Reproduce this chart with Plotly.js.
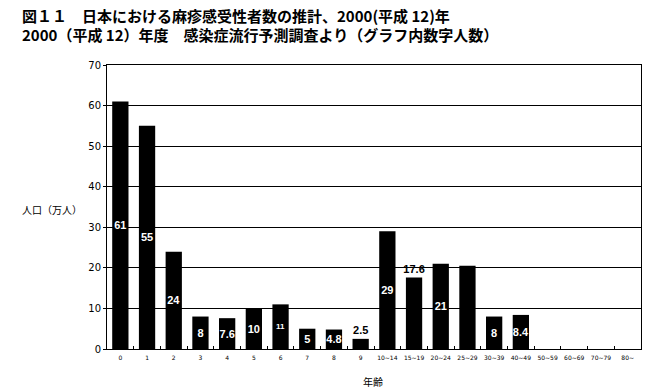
<!DOCTYPE html>
<html><head><meta charset="utf-8">
<script src="https://cdn.plot.ly/plotly-3.0.1.min.js"></script>
<style>body{margin:0;background:#fff}#c{width:653px;height:391px}</style>
</head><body><div id="c"></div>
<script>
var categories = ["0","1","2","3","4","5","6","7","8","9","10~14","15~19","20~24","25~29","30~39","40~49","50~59","60~69","70~79","80~"];
var values = [61,55,24,8,7.6,10,11,5,4.8,2.5,29,17.6,21,20.5,8,8.4,0,0,0,0];
var labels = ["61","55","24","8","7.6","10","11","5","4.8","2.5","29","17.6","21","","8","8.4","","","",""];
var outsideLabels = ["2.5","17.6"];
var smallLabels = ["11"];

var pos = labels.map(function(l){return outsideLabels.indexOf(l)>=0?'outside':'inside';});
var col = labels.map(function(l){return outsideLabels.indexOf(l)>=0?'#000':'#fff';});
var sz = labels.map(function(l){return smallLabels.indexOf(l)>=0?8:11;});

var trace = {
  type:'bar', x:categories, y:values, text:labels,
  textposition:pos, insidetextanchor:'middle', constraintext:'none', textangle:0,
  textfont:{family:'Liberation Sans, Arial', color:col, size:sz, weight:'bold'},
  marker:{color:'#000'}, hoverinfo:'none', cliponaxis:false
};
var layout = {
  width:653, height:391, margin:{l:107,r:12,t:65,b:42},
  paper_bgcolor:'#fff', plot_bgcolor:'#fff', showlegend:false, bargap:0.39,
  font:{family:'Liberation Sans, Arial', color:'#000'},
  xaxis:{type:'category', showline:true, linecolor:'#000', linewidth:1, mirror:true,
    ticks:'inside', tickson:'boundaries', ticklen:3, tickcolor:'#000', showgrid:false,
    tickangle:0, tickfont:{size:6, family:'DejaVu Sans', color:'#000'}, ticklabelstandoff:3},
  yaxis:{range:[0,70], dtick:10, showline:true, linecolor:'#000', linewidth:1, mirror:true,
    ticks:'outside', ticklen:3, tickcolor:'#000', showgrid:true, gridcolor:'#000', gridwidth:1,
    zeroline:false, tickfont:{size:10, family:'DejaVu Sans', color:'#000'}},
  annotations:[
    {text:'図１１　日本における麻疹感受性者数の推計、2000(平成 12)年', xref:'paper', yref:'paper',
     x:-87/534, y:1+50/284, xanchor:'left', yanchor:'middle', showarrow:false,
     font:{family:'Noto Sans CJK JP', size:15, weight:'bold', color:'#000'}},
    {text:'2000（平成 12）年度　感染症流行予測調査より（グラフ内数字人数）', xref:'paper', yref:'paper',
     x:-87/534, y:1+30/284, xanchor:'left', yanchor:'middle', showarrow:false,
     font:{family:'Noto Sans CJK JP', size:15, weight:'bold', color:'#000'}},
    {text:'人口（万人）', xref:'paper', yref:'paper', x:-87/534, y:(349-209)/284,
     xanchor:'left', yanchor:'middle', showarrow:false,
     font:{family:'Noto Sans CJK JP', size:10, color:'#000'}},
    {text:'年齢', xref:'paper', yref:'paper', x:(373-107)/534, y:-(381-349)/284,
     xanchor:'center', yanchor:'middle', showarrow:false,
     font:{family:'Noto Sans CJK JP', size:10, color:'#000'}}
  ]
};
Plotly.newPlot('c',[trace],layout,{staticPlot:true});
</script></body></html>
